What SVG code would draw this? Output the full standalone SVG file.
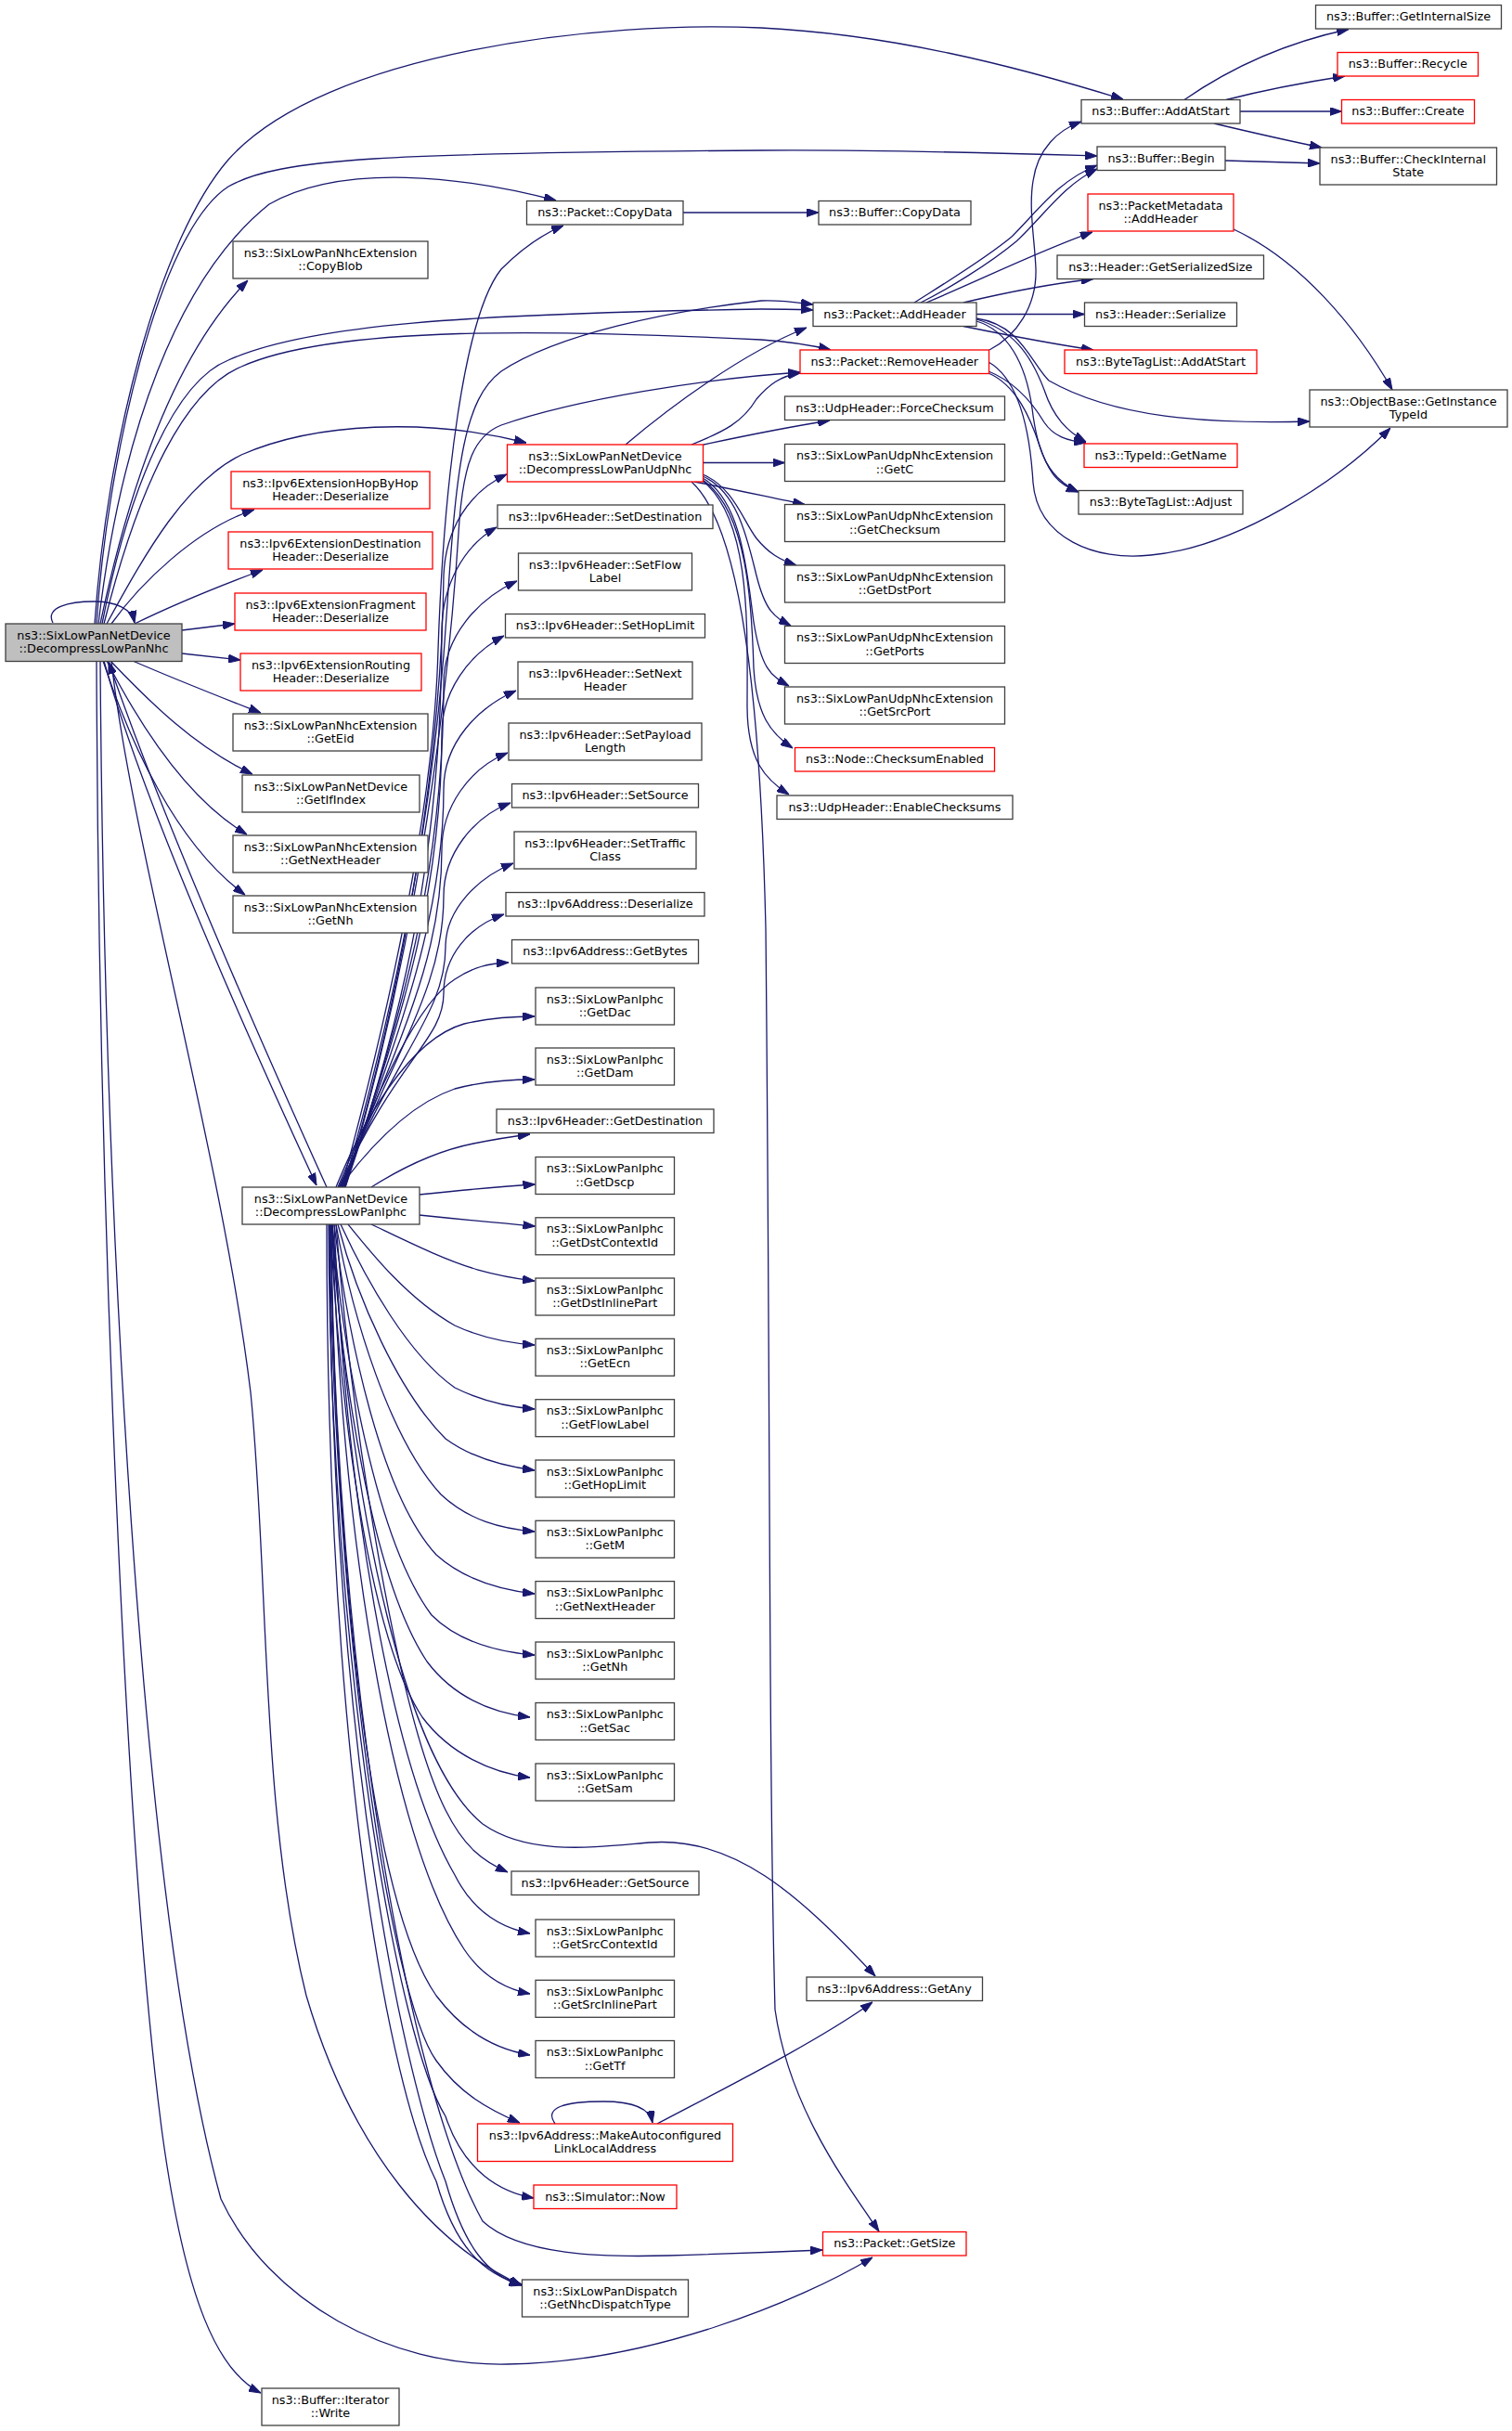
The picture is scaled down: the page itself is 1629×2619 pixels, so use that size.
<svg xmlns="http://www.w3.org/2000/svg" width="1629" height="2619" viewBox="0 0 1629 2619">
<style>
.n{fill:#ffffff;stroke:#404040;stroke-width:1.3}
.r{fill:#ffffff;stroke:#ff0000;stroke-width:1.3}
.m{fill:#bfbfbf;stroke:#404040;stroke-width:1.3}
text{font-family:"DejaVu Sans","Noto Sans",sans-serif;font-size:12.8px;fill:#000000;text-anchor:middle}
#edges path{fill:none;stroke:#191970;stroke-width:1.3;marker-end:url(#a)}
</style>
<defs>
<marker id="a" markerWidth="13" markerHeight="9" refX="13" refY="4.5" orient="auto" markerUnits="userSpaceOnUse"><path d="M0,0 L13,4.5 L0,9 z" fill="#191970" stroke="#191970" stroke-width="1"/></marker>
</defs>
<rect width="1629" height="2619" fill="#ffffff"/>
<g id="edges">
<!-- main node edges -->
<path d="M102,672 C115,480 170,260 246,172 C350,55 650,22 820,30 C960,37 1090,70 1210,107"/>
<path d="M104,672 C115,500 170,250 246,201 C300,170 420,165 820,162 C950,161 1080,165 1182,168"/>
<path d="M106,672 C130,470 190,300 290,220 C370,175 500,190 599,216"/>
<path d="M108,672 C140,520 190,380 267,302"/>
<path d="M110,672 C140,520 190,410 246,388 C330,350 500,338 820,333 C840,333 860,333 876,334"/>
<path d="M112,672 C150,520 200,420 260,395 C360,350 600,355 820,366 C850,368 875,372 895,377"/>
<path d="M115,672 C160,590 200,520 260,490 C340,455 460,450 567,477"/>
<path d="M57,671 C48,654 75,648 101,648 C125,648 142,656 145,671"/>
<path d="M120,672 C150,630 210,570 274,549"/>
<path d="M145,672 C190,650 240,630 283,614"/>
<path d="M196,679 L253,672"/>
<path d="M196,704 L259,711"/>
<path d="M143,712 C180,728 240,752 281,768"/>
<path d="M119,712 C160,755 210,805 272,834"/>
<path d="M115,712 C150,780 200,860 266,899"/>
<path d="M111,712 C140,800 190,910 264,964"/>
<path d="M112,712 C150,850 250,1080 341,1277"/>
<path d="M352,1279 C262,1080 167,860 117,713"/>
<path d="M104,712 C106,1300 135,2000 175,2300 C200,2480 235,2555 281,2578"/>
<path d="M108,712 C112,1300 150,2050 238,2369 C290,2480 420,2550 547,2547 C700,2545 860,2480 940,2432"/>
<path d="M120,712 C140,900 240,1250 270,1500 C290,1700 280,1950 330,2150 C380,2320 470,2420 562,2462"/>
<!-- UdpNhc edges -->
<path d="M674,479 C720,440 800,380 869,353"/>
<path d="M745,479 C780,465 800,455 815,430 C828,415 840,405 862,402"/>
<path d="M758,479 C800,470 850,460 894,453"/>
<path d="M757.5,498.5 L845.5,498.5"/>
<path d="M748,519 C790,527 830,536 867,543.5"/>
<path d="M757,511 C790,525 800,560 815,580 C828,596 840,603 858,609"/>
<path d="M757,513 C795,530 805,580 815,620 C825,660 835,665 852,674"/>
<path d="M757,515 C800,540 805,620 812,670 C820,720 830,728 850,739"/>
<path d="M757,517 C805,550 810,650 812,720 C815,770 830,790 854,806"/>
<path d="M757,518 C810,560 805,680 805,760 C805,820 825,840 850,856"/>
<path d="M745,519 C790,560 818,700 825,1000 C830,1500 828,1900 835,2165 C850,2270 910,2350 947,2404"/>
<!-- AddHeader / RemoveHeader edges -->
<path d="M1066,377 C1095,362 1117,330 1116,290 C1115,260 1108,225 1113,195 C1118,160 1140,140 1165,131"/>
<path d="M985,326 C1010,310 1060,280 1090,255 C1120,225 1140,195 1182,178"/>
<path d="M992,326 C1020,312 1065,285 1095,260 C1125,232 1145,200 1182,182"/>
<path d="M998,326 C1060,300 1120,270 1177,250"/>
<path d="M1038,326 C1080,316 1130,306 1178,300.5"/>
<path d="M1052,338.5 L1168.5,338.5"/>
<path d="M1038,351.5 C1080,360 1130,370 1178,377"/>
<path d="M1052,344 C1090,355 1110,380 1125,420 C1135,450 1150,465 1170,476"/>
<path d="M1052,346 C1085,356 1105,390 1112,440 C1118,490 1130,515 1162,530"/>
<path d="M1052,343 C1100,350 1110,390 1130,410 C1200,450 1300,457 1411,454"/>
<path d="M1065,400 C1090,410 1110,430 1125,455 C1135,470 1150,475 1170,477"/>
<path d="M1065,402 C1095,415 1110,450 1120,480 C1130,510 1140,522 1162,530"/>
<path d="M1065,390 C1100,410 1110,470 1113,520 C1118,580 1180,605 1240,598 C1330,590 1440,520 1498,461"/>
<path d="M1329,247 C1400,280 1460,350 1500,420"/>
<!-- Buffer edges -->
<path d="M1276,107.5 C1330,70 1390,45 1453,31.5"/>
<path d="M1321,107.5 C1370,95 1410,88 1449,82"/>
<path d="M1336,120 L1445.5,120"/>
<path d="M1308,133 C1350,143 1390,152 1424,159"/>
<path d="M1320,173 L1422,176"/>
<path d="M736,229 L882,229"/>
<!-- IPHC edges upward -->
<path d="M368,1279 C430,1050 468,850 472,700 C478,520 500,340 540,290 C565,265 585,252 607,243"/>
<path d="M370,1279 C435,1050 470,850 482,650 C492,500 500,430 540,400 C600,360 720,335 820,324 C840,323 860,326 876,328"/>
<path d="M372,1279 C440,1050 480,800 495,560 C500,500 510,470 540,458 C620,430 760,408 862,401"/>
<path d="M371,1279 C440,1050 476,800 478,620 C480,570 505,530 546,511"/>
<path d="M372,1279 C440,1080 476,900 476,680 C476,630 500,588 535,568"/>
<path d="M371,1279 C440,1080 478,920 478,736 C478,686 515,645 557,626"/>
<path d="M370,1279 C438,1090 476,950 476,790 C476,745 505,705 543,685"/>
<path d="M369,1279 C436,1100 478,980 478,850 C478,800 515,762 556,744"/>
<path d="M368,1279 C434,1110 476,1030 476,915 C476,870 505,828 547,811"/>
<path d="M367,1279 C432,1120 478,1060 478,965 C478,920 510,880 550,865"/>
<path d="M366,1279 C430,1130 480,1090 480,1020 C480,980 515,945 553,930"/>
<path d="M365,1279 C428,1140 478,1120 478,1070 C478,1030 505,998 543,985"/>
<path d="M364,1279 C410,1170 450,1080 490,1055 C510,1042 525,1038 548,1037"/>
<path d="M362,1279 C390,1210 440,1120 500,1103 C530,1096 555,1095 576,1095"/>
<path d="M366,1279 C395,1240 440,1190 490,1173 C520,1165 550,1163 576,1163"/>
<path d="M400,1279 C430,1260 470,1240 510,1232 C535,1227 555,1224 571,1222"/>
<path d="M451.5,1287 C490,1283 530,1279 576.5,1276"/>
<path d="M451.5,1309 C490,1313 530,1317 576.5,1321"/>
<!-- IPHC edges downward -->
<path d="M400,1319 C440,1338 480,1358 515,1368 C540,1375 560,1378 576,1380"/>
<path d="M375,1319 C400,1350 440,1400 490,1428 C520,1442 550,1447 576,1449"/>
<path d="M367,1319 C395,1380 440,1460 490,1495 C520,1510 550,1516 576,1518"/>
<path d="M364,1319 C385,1400 430,1500 480,1550 C510,1572 545,1580 576,1584"/>
<path d="M362,1319 C380,1420 420,1550 475,1610 C505,1638 540,1647 576,1650"/>
<path d="M360,1319 C375,1440 410,1610 470,1675 C500,1702 540,1713 576,1717"/>
<path d="M358,1319 C370,1460 405,1660 465,1740 C495,1770 540,1780 576,1783"/>
<path d="M357,1319 C368,1480 400,1700 460,1790 C490,1830 530,1845 571,1850"/>
<path d="M356,1319 C365,1500 395,1760 455,1850 C485,1890 530,1910 571,1915"/>
<path d="M362,1319 C380,1550 430,1850 480,1950 C500,1990 520,2005 547,2017"/>
<path d="M360,1319 C372,1600 420,1900 490,2020 C510,2060 540,2077 571,2083"/>
<path d="M358,1319 C368,1650 420,1980 500,2100 C520,2130 545,2143 571,2148"/>
<path d="M356,1319 C362,1700 400,2050 470,2150 C500,2190 535,2208 571,2214"/>
<path d="M355,1319 C360,1750 420,2150 470,2220 C495,2255 525,2272 560,2287"/>
<path d="M354,1319 C356,1800 430,2200 480,2280 C500,2340 540,2362 575,2368"/>
<path d="M357,1319 C360,1800 440,2250 520,2393 C560,2430 650,2432 720,2430 C790,2428 840,2426 886,2424"/>
<path d="M352,1319 C352,1900 420,2250 470,2350 C490,2420 520,2450 562,2461"/>
<path d="M355,1319 C356,1900 440,2250 480,2350 C500,2420 525,2452 562,2462"/>
<path d="M358,1319 C380,1650 440,1900 520,1965 C570,2000 640,1990 700,1985 C790,1978 860,2040 943,2129"/>
<path d="M708,2288 C780,2250 880,2200 940,2157"/>
<path d="M598,2288 C585,2270 610,2264 650,2264 C680,2264 700,2270 703,2287"/>
</g>
<g id="n_main"><rect class="m" x="6" y="672" width="190" height="40.5"/><text x="101" y="688.6">ns3::SixLowPanNetDevice</text><text x="101" y="703">::DecompressLowPanNhc</text></g>
<g id="n_copyblob"><rect class="n" x="251" y="260" width="210" height="40"/><text x="356" y="276.6">ns3::SixLowPanNhcExtension</text><text x="356" y="291">::CopyBlob</text></g>
<g id="n_hopbyhop"><rect class="r" x="249" y="508" width="214" height="40"/><text x="356" y="524.6">ns3::Ipv6ExtensionHopByHop</text><text x="356" y="539">Header::Deserialize</text></g>
<g id="n_destination"><rect class="r" x="246" y="573" width="220" height="40"/><text x="356" y="589.6">ns3::Ipv6ExtensionDestination</text><text x="356" y="604">Header::Deserialize</text></g>
<g id="n_fragment"><rect class="r" x="253" y="639" width="206" height="40"/><text x="356" y="655.6">ns3::Ipv6ExtensionFragment</text><text x="356" y="670">Header::Deserialize</text></g>
<g id="n_routing"><rect class="r" x="259" y="704" width="195" height="40"/><text x="356.5" y="720.6">ns3::Ipv6ExtensionRouting</text><text x="356.5" y="735">Header::Deserialize</text></g>
<g id="n_geteid"><rect class="n" x="251" y="769" width="210" height="40"/><text x="356" y="785.6">ns3::SixLowPanNhcExtension</text><text x="356" y="800">::GetEid</text></g>
<g id="n_getifindex"><rect class="n" x="261" y="835" width="191" height="40"/><text x="356.5" y="851.6">ns3::SixLowPanNetDevice</text><text x="356.5" y="866">::GetIfIndex</text></g>
<g id="n_nhcgetnextheader"><rect class="n" x="251" y="900" width="210" height="40"/><text x="356" y="916.6">ns3::SixLowPanNhcExtension</text><text x="356" y="931">::GetNextHeader</text></g>
<g id="n_nhcgetnh"><rect class="n" x="251" y="965" width="210" height="40"/><text x="356" y="981.6">ns3::SixLowPanNhcExtension</text><text x="356" y="996">::GetNh</text></g>
<g id="n_iphc"><rect class="n" x="261" y="1279" width="191" height="40"/><text x="356.5" y="1295.6">ns3::SixLowPanNetDevice</text><text x="356.5" y="1310">::DecompressLowPanIphc</text></g>
<g id="n_write"><rect class="n" x="282" y="2573" width="148" height="40"/><text x="356" y="2589.6">ns3::Buffer::Iterator</text><text x="356" y="2604">::Write</text></g>
<g id="n_pcopydata"><rect class="n" x="567.5" y="216.5" width="168.5" height="25.5"/><text x="651.75" y="233.3">ns3::Packet::CopyData</text></g>
<g id="n_udpnhc"><rect class="r" x="546.5" y="479" width="211" height="40"/><text x="652" y="495.6">ns3::SixLowPanNetDevice</text><text x="652" y="510">::DecompressLowPanUdpNhc</text></g>
<g id="n_setdestination"><rect class="n" x="536" y="544" width="232" height="25.5"/><text x="652" y="560.8">ns3::Ipv6Header::SetDestination</text></g>
<g id="n_setflowlabel"><rect class="n" x="558.5" y="596" width="187" height="40"/><text x="652" y="612.6">ns3::Ipv6Header::SetFlow</text><text x="652" y="627">Label</text></g>
<g id="n_sethoplimit"><rect class="n" x="544.5" y="661.5" width="215" height="25.5"/><text x="652" y="678.3">ns3::Ipv6Header::SetHopLimit</text></g>
<g id="n_setnextheader"><rect class="n" x="558" y="713" width="188" height="40"/><text x="652" y="729.6">ns3::Ipv6Header::SetNext</text><text x="652" y="744">Header</text></g>
<g id="n_setpayload"><rect class="n" x="548" y="779" width="208" height="40"/><text x="652" y="795.6">ns3::Ipv6Header::SetPayload</text><text x="652" y="810">Length</text></g>
<g id="n_setsource"><rect class="n" x="551.5" y="844.5" width="201" height="25.5"/><text x="652" y="861.3">ns3::Ipv6Header::SetSource</text></g>
<g id="n_settraffic"><rect class="n" x="554" y="896" width="196" height="40"/><text x="652" y="912.6">ns3::Ipv6Header::SetTraffic</text><text x="652" y="927">Class</text></g>
<g id="n_addrdeserialize"><rect class="n" x="545" y="961.5" width="214" height="25.5"/><text x="652" y="978.3">ns3::Ipv6Address::Deserialize</text></g>
<g id="n_getbytes"><rect class="n" x="551.5" y="1012.5" width="201" height="25.5"/><text x="652" y="1029.3">ns3::Ipv6Address::GetBytes</text></g>
<g id="n_getdac"><rect class="n" x="577" y="1064" width="149.5" height="40"/><text x="651.75" y="1080.6">ns3::SixLowPanIphc</text><text x="651.75" y="1095">::GetDac</text></g>
<g id="n_getdam"><rect class="n" x="577" y="1129" width="149.5" height="40"/><text x="651.75" y="1145.6">ns3::SixLowPanIphc</text><text x="651.75" y="1160">::GetDam</text></g>
<g id="n_getdestination"><rect class="n" x="535" y="1195" width="234" height="25.5"/><text x="652" y="1211.8">ns3::Ipv6Header::GetDestination</text></g>
<g id="n_getdscp"><rect class="n" x="577" y="1246.5" width="149.5" height="40"/><text x="651.75" y="1263.1">ns3::SixLowPanIphc</text><text x="651.75" y="1277.5">::GetDscp</text></g>
<g id="n_getdstcontextid"><rect class="n" x="577" y="1311.8" width="149.5" height="40"/><text x="651.75" y="1328.4">ns3::SixLowPanIphc</text><text x="651.75" y="1342.8">::GetDstContextId</text></g>
<g id="n_getdstinlinepart"><rect class="n" x="577" y="1377" width="149.5" height="40"/><text x="651.75" y="1393.6">ns3::SixLowPanIphc</text><text x="651.75" y="1408">::GetDstInlinePart</text></g>
<g id="n_getecn"><rect class="n" x="577" y="1442.3" width="149.5" height="40"/><text x="651.75" y="1458.9">ns3::SixLowPanIphc</text><text x="651.75" y="1473.3">::GetEcn</text></g>
<g id="n_getflowlabel"><rect class="n" x="577" y="1507.7" width="149.5" height="40"/><text x="651.75" y="1524.3">ns3::SixLowPanIphc</text><text x="651.75" y="1538.7">::GetFlowLabel</text></g>
<g id="n_gethoplimit"><rect class="n" x="577" y="1573" width="149.5" height="40"/><text x="651.75" y="1589.6">ns3::SixLowPanIphc</text><text x="651.75" y="1604">::GetHopLimit</text></g>
<g id="n_getm"><rect class="n" x="577" y="1638.3" width="149.5" height="40"/><text x="651.75" y="1654.9">ns3::SixLowPanIphc</text><text x="651.75" y="1669.3">::GetM</text></g>
<g id="n_iphcgetnextheader"><rect class="n" x="577" y="1703.6" width="149.5" height="40"/><text x="651.75" y="1720.2">ns3::SixLowPanIphc</text><text x="651.75" y="1734.6">::GetNextHeader</text></g>
<g id="n_iphcgetnh"><rect class="n" x="577" y="1769" width="149.5" height="40"/><text x="651.75" y="1785.6">ns3::SixLowPanIphc</text><text x="651.75" y="1800">::GetNh</text></g>
<g id="n_getsac"><rect class="n" x="577" y="1834.5" width="149.5" height="40"/><text x="651.75" y="1851.1">ns3::SixLowPanIphc</text><text x="651.75" y="1865.5">::GetSac</text></g>
<g id="n_getsam"><rect class="n" x="577" y="1900" width="149.5" height="40"/><text x="651.75" y="1916.6">ns3::SixLowPanIphc</text><text x="651.75" y="1931">::GetSam</text></g>
<g id="n_getsource"><rect class="n" x="551" y="2016" width="202" height="25.5"/><text x="652" y="2032.8">ns3::Ipv6Header::GetSource</text></g>
<g id="n_getsrccontextid"><rect class="n" x="577" y="2068" width="149.5" height="40"/><text x="651.75" y="2084.6">ns3::SixLowPanIphc</text><text x="651.75" y="2099">::GetSrcContextId</text></g>
<g id="n_getsrcinlinepart"><rect class="n" x="577" y="2133.3" width="149.5" height="40"/><text x="651.75" y="2149.9">ns3::SixLowPanIphc</text><text x="651.75" y="2164.3">::GetSrcInlinePart</text></g>
<g id="n_gettf"><rect class="n" x="577" y="2198.5" width="149.5" height="40"/><text x="651.75" y="2215.1">ns3::SixLowPanIphc</text><text x="651.75" y="2229.5">::GetTf</text></g>
<g id="n_makeauto"><rect class="r" x="514.5" y="2288" width="275" height="40.5"/><text x="652" y="2304.6">ns3::Ipv6Address::MakeAutoconfigured</text><text x="652" y="2319">LinkLocalAddress</text></g>
<g id="n_simnow"><rect class="r" x="575" y="2354" width="154" height="25.5"/><text x="652" y="2370.8">ns3::Simulator::Now</text></g>
<g id="n_gndt"><rect class="n" x="562.5" y="2456" width="179" height="40"/><text x="652" y="2472.6">ns3::SixLowPanDispatch</text><text x="652" y="2487">::GetNhcDispatchType</text></g>
<g id="n_bcopydata"><rect class="n" x="882" y="216.5" width="164" height="25.5"/><text x="964" y="233.3">ns3::Buffer::CopyData</text></g>
<g id="n_addheader"><rect class="n" x="876" y="326" width="176" height="25.5"/><text x="964" y="342.8">ns3::Packet::AddHeader</text></g>
<g id="n_removeheader"><rect class="r" x="862" y="377" width="203.5" height="25.5"/><text x="963.75" y="393.8">ns3::Packet::RemoveHeader</text></g>
<g id="n_forcechecksum"><rect class="n" x="845.5" y="427" width="237" height="25.5"/><text x="964" y="443.8">ns3::UdpHeader::ForceChecksum</text></g>
<g id="n_getc"><rect class="n" x="845.5" y="478.5" width="237" height="40"/><text x="964" y="495.1">ns3::SixLowPanUdpNhcExtension</text><text x="964" y="509.5">::GetC</text></g>
<g id="n_getchecksum"><rect class="n" x="845.5" y="543.5" width="237" height="40"/><text x="964" y="560.1">ns3::SixLowPanUdpNhcExtension</text><text x="964" y="574.5">::GetChecksum</text></g>
<g id="n_getdstport"><rect class="n" x="845.5" y="609" width="237" height="40"/><text x="964" y="625.6">ns3::SixLowPanUdpNhcExtension</text><text x="964" y="640">::GetDstPort</text></g>
<g id="n_getports"><rect class="n" x="845.5" y="674.5" width="237" height="40"/><text x="964" y="691.1">ns3::SixLowPanUdpNhcExtension</text><text x="964" y="705.5">::GetPorts</text></g>
<g id="n_getsrcport"><rect class="n" x="845.5" y="740" width="237" height="40"/><text x="964" y="756.6">ns3::SixLowPanUdpNhcExtension</text><text x="964" y="771">::GetSrcPort</text></g>
<g id="n_checksumenabled"><rect class="r" x="856.5" y="805.5" width="215" height="25.5"/><text x="964" y="822.3">ns3::Node::ChecksumEnabled</text></g>
<g id="n_enablechecksums"><rect class="n" x="837" y="857" width="254" height="25.5"/><text x="964" y="873.8">ns3::UdpHeader::EnableChecksums</text></g>
<g id="n_getany"><rect class="n" x="869" y="2130" width="189.5" height="25.5"/><text x="963.75" y="2146.8">ns3::Ipv6Address::GetAny</text></g>
<g id="n_getsize"><rect class="r" x="886.5" y="2404.5" width="154.5" height="25.5"/><text x="963.75" y="2421.3">ns3::Packet::GetSize</text></g>
<g id="n_addatstart"><rect class="n" x="1165" y="107.5" width="171" height="25.5"/><text x="1250.5" y="124.3">ns3::Buffer::AddAtStart</text></g>
<g id="n_begin"><rect class="n" x="1182" y="158" width="138" height="25.5"/><text x="1251" y="174.8">ns3::Buffer::Begin</text></g>
<g id="n_pmaddheader"><rect class="r" x="1172" y="209" width="157" height="40"/><text x="1250.5" y="225.6">ns3::PacketMetadata</text><text x="1250.5" y="240">::AddHeader</text></g>
<g id="n_getserializedsize"><rect class="n" x="1139" y="275" width="222.5" height="25.5"/><text x="1250.25" y="291.8">ns3::Header::GetSerializedSize</text></g>
<g id="n_headerserialize"><rect class="n" x="1168.5" y="326" width="164" height="25.5"/><text x="1250.5" y="342.8">ns3::Header::Serialize</text></g>
<g id="n_btladdatstart"><rect class="r" x="1147" y="377" width="207" height="25.5"/><text x="1250.5" y="393.8">ns3::ByteTagList::AddAtStart</text></g>
<g id="n_typeidgetname"><rect class="r" x="1168" y="478" width="165" height="25.5"/><text x="1250.5" y="494.8">ns3::TypeId::GetName</text></g>
<g id="n_btladjust"><rect class="n" x="1162" y="528.5" width="177" height="25.5"/><text x="1250.5" y="545.3">ns3::ByteTagList::Adjust</text></g>
<g id="n_getinternalsize"><rect class="n" x="1417.5" y="5.5" width="200" height="25.5"/><text x="1517.5" y="22.3">ns3::Buffer::GetInternalSize</text></g>
<g id="n_recycle"><rect class="r" x="1441" y="56.5" width="151.5" height="25.5"/><text x="1516.75" y="73.3">ns3::Buffer::Recycle</text></g>
<g id="n_create"><rect class="r" x="1445.5" y="107.5" width="143" height="25.5"/><text x="1517" y="124.3">ns3::Buffer::Create</text></g>
<g id="n_checkinternalstate"><rect class="n" x="1422" y="159" width="190.5" height="40"/><text x="1517.25" y="175.6">ns3::Buffer::CheckInternal</text><text x="1517.25" y="190">State</text></g>
<g id="n_objectbase"><rect class="n" x="1411" y="420" width="213" height="40"/><text x="1517.5" y="436.6">ns3::ObjectBase::GetInstance</text><text x="1517.5" y="451">TypeId</text></g>
</svg>
